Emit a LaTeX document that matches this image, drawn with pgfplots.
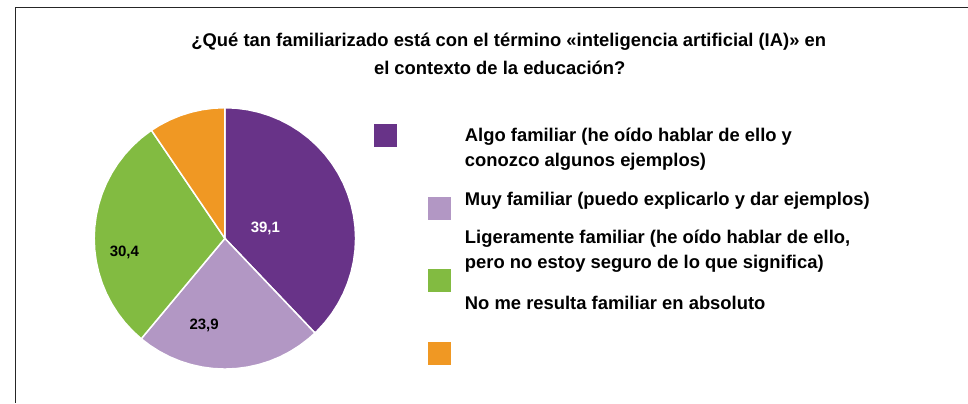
\documentclass[border=0pt]{standalone}
\usepackage{fontspec}
\setmainfont{Liberation Sans}
\usepackage{pgfplots}
\pgfplotsset{compat=1.18}
\usepgfplotslibrary{polar}
\definecolor{cPur}{RGB}{104,51,136}
\definecolor{cLav}{RGB}{178,151,196}
\definecolor{cGre}{RGB}{130,187,65}
\definecolor{cOra}{RGB}{240,152,35}
% values: 39,1 ; 23,9 ; 30,4 ; 9,8 (unlabelled) -> angles 136.4, 83.4, 106.0, 34.2 deg
\begin{document}
\begin{tikzpicture}[x=1bp,y=1bp]
\path (0,0) rectangle (968,403);
\draw[line width=1bp,color=black!85] (16,0) -- (16,395.2) -- (968,395.2);
\begin{polaraxis}[at={(225bp,164.5bp)},anchor=center,
  width=261.5bp,height=261.5bp,scale only axis,
  hide axis,clip=false,xmin=0,xmax=360,ymin=0,ymax=1]
\addplot[fill=cPur,draw=white,line width=1.5bp] coordinates {(0,0) (90,1) (85,1) (80,1) (75,1) (70,1) (65,1) (60,1) (55,1) (50,1) (45,1) (40,1) (35,1) (30,1) (25,1) (20,1) (15,1) (10,1) (5,1) (0,1) (355,1) (350,1) (345,1) (340,1) (335,1) (330,1) (325,1) (320,1) (315,1) (313.6,1) (0,0)};
\addplot[fill=cLav,draw=white,line width=1.5bp] coordinates {(0,0) (313.6,1) (310,1) (305,1) (300,1) (295,1) (290,1) (285,1) (280,1) (275,1) (270,1) (265,1) (260,1) (255,1) (250,1) (245,1) (240,1) (235,1) (230.2,1) (0,0)};
\addplot[fill=cGre,draw=white,line width=1.5bp] coordinates {(0,0) (230.2,1) (225,1) (220,1) (215,1) (210,1) (205,1) (200,1) (195,1) (190,1) (185,1) (180,1) (175,1) (170,1) (165,1) (160,1) (155,1) (150,1) (145,1) (140,1) (135,1) (130,1) (125,1) (124.2,1) (0,0)};
\addplot[fill=cOra,draw=white,line width=1.5bp] coordinates {(0,0) (124.2,1) (120,1) (115,1) (110,1) (105,1) (100,1) (95,1) (90,1) (0,0)};
\node[text=white,yshift=-1.5bp,font=\fontsize{15bp}{18bp}\selectfont\bfseries] at (axis cs:16.3,0.323) {39,1};
\node[text=black,yshift=-1.5bp,font=\fontsize{15bp}{18bp}\selectfont\bfseries] at (axis cs:256.3,0.672) {23,9};
\node[text=black,yshift=-1.5bp,font=\fontsize{15bp}{18bp}\selectfont\bfseries] at (axis cs:187.1,0.775) {30,4};
\end{polaraxis}
\begin{scope}[every node/.style={inner sep=0pt,font=\fontsize{18.4bp}{22bp}\selectfont\bfseries}]
\node[anchor=base] at (509,356) {¿Qué tan familiarizado está con el término «inteligencia artificial (IA)» en};
\node[anchor=base] at (500,328.5) {el contexto de la educación?};
\node[anchor=base west] at (465,261.2) {Algo familiar (he oído hablar de ello y};
\node[anchor=base west] at (465,236.2) {conozco algunos ejemplos)};
\node[anchor=base west] at (465,197) {Muy familiar (puedo explicarlo y dar ejemplos)};
\node[anchor=base west] at (465,159) {Ligeramente familiar (he oído hablar de ello,};
\node[anchor=base west] at (465,134.7) {pero no estoy seguro de lo que significa)};
\node[anchor=base west] at (465,93.7) {No me resulta familiar en absoluto};
\end{scope}
\fill[cPur] (374,256) rectangle (397,279);
\fill[cLav] (428,183) rectangle (451,206);
\fill[cGre] (428,111) rectangle (451,134);
\fill[cOra] (428,38) rectangle (451,61);
\end{tikzpicture}
\end{document}
